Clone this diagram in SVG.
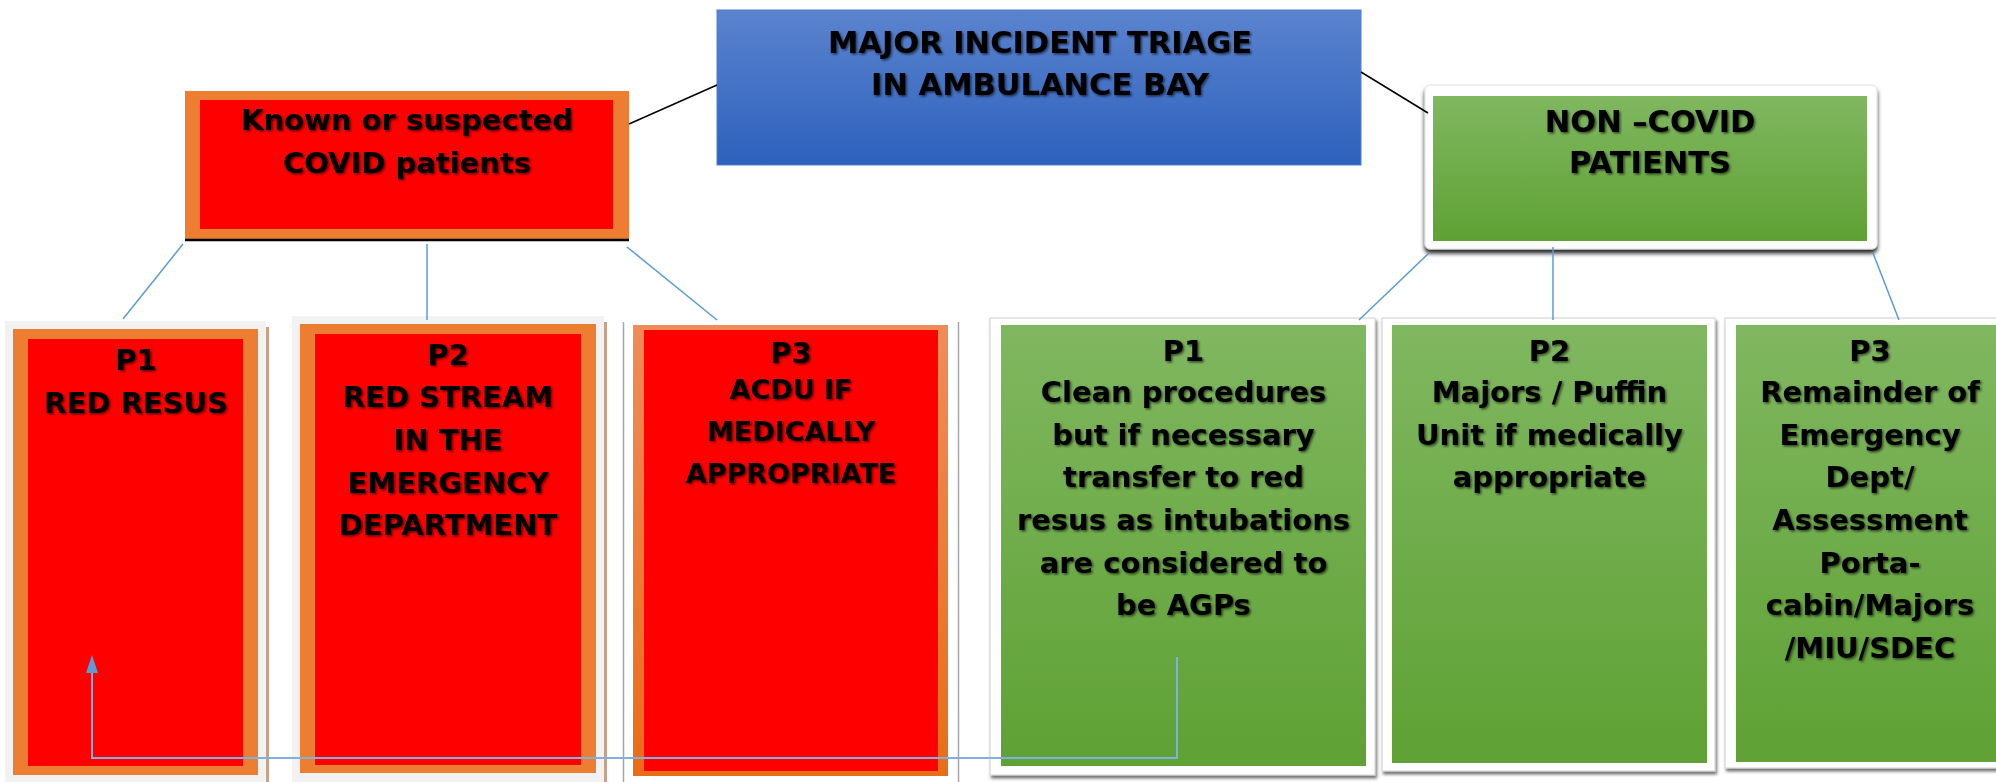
<svg xmlns="http://www.w3.org/2000/svg" width="1996" height="782" viewBox="0 0 1996 782">
<defs>
  <linearGradient id="blueGrad" x1="0" y1="0" x2="0" y2="1">
    <stop offset="0" stop-color="#5B83CF"/>
    <stop offset="1" stop-color="#2D61BC"/>
  </linearGradient>
  <linearGradient id="greenGrad" x1="0" y1="0" x2="0" y2="1">
    <stop offset="0" stop-color="#80B760"/>
    <stop offset="1" stop-color="#5FA134"/>
  </linearGradient>
  <linearGradient id="orangeGrad" x1="0" y1="0" x2="0" y2="1">
    <stop offset="0" stop-color="#F08C58"/>
    <stop offset="1" stop-color="#E86D16"/>
  </linearGradient>
  <filter id="txtShadow" x="-10%" y="-30%" width="120%" height="160%">
    <feDropShadow dx="1.5" dy="1.5" stdDeviation="1.2" flood-color="#000000" flood-opacity="0.6"/>
  </filter>
  <filter id="frameShadow" x="-5%" y="-5%" width="110%" height="110%">
    <feDropShadow dx="1.5" dy="3" stdDeviation="1.5" flood-color="#000000" flood-opacity="0.55"/>
  </filter>
  <filter id="boxShadow" x="-5%" y="-10%" width="110%" height="125%">
    <feDropShadow dx="0" dy="4" stdDeviation="2" flood-color="#000000" flood-opacity="0.85"/>
  </filter>
</defs>
<style>
  .t { font-family: "DejaVu Sans", Verdana, sans-serif; font-weight: bold; font-size: 29px; fill: #000000; text-anchor: middle; filter: url(#txtShadow); }
  .big { font-size: 30.5px; }
  .sm { font-size: 27px; }
  .red { fill: #FF0000; }
  .orange { fill: #ED7D31; }
  .grayframe { fill: #F2F2F2; }
  .tan { fill: #C9A088; }
  .green { fill: url(#greenGrad); }
  .whiteframe { fill: #FFFFFF; stroke: #D0D0D0; stroke-width: 1; filter: url(#frameShadow); }
  .blueline { stroke: #5B9BD5; stroke-width: 1.5; fill: none; }
  .blackline { stroke: #000000; stroke-width: 1.5; fill: none; }
</style>

<g id="nodes">
  <g id="title">
    <rect x="717" y="10" width="644" height="155" fill="url(#blueGrad)" stroke="#4F7FD0" stroke-width="1"/>
    <text class="t big" x="1040" y="53">MAJOR INCIDENT TRIAGE</text>
    <text class="t big" x="1040" y="95">IN AMBULANCE BAY</text>
  </g>

  <g id="covid">
    <rect x="185" y="91" width="444" height="148" class="orange"/>
    <rect x="200" y="100" width="413" height="129" class="red"/>
    <line x1="185" y1="240" x2="629" y2="240" stroke="#000000" stroke-width="2.5"/>
    <text class="t" x="407" y="130">Known or suspected</text>
    <text class="t" x="407" y="173">COVID patients</text>
  </g>

  <g id="noncovid">
    <rect x="1425" y="85" width="452" height="164" rx="5" fill="#FFFFFF" stroke="#E0E0E0" stroke-width="1" filter="url(#boxShadow)"/>
    <rect x="1433" y="96" width="434" height="145" class="green"/>
    <text class="t big" x="1650" y="132">NON –COVID</text>
    <text class="t big" x="1650" y="173">PATIENTS</text>
  </g>

  <g id="covid-p1">
    <rect x="266" y="327" width="3" height="455" class="tan"/>
    <rect x="5" y="321" width="261" height="461" class="grayframe"/>
    <rect x="13" y="329" width="245" height="446" class="orange"/>
    <rect x="28" y="339" width="215" height="427" class="red"/>
    <text class="t" x="136" y="370">P1</text>
    <text class="t" x="136" y="413">RED RESUS</text>
  </g>

  <g id="covid-p2">
    <rect x="604" y="322" width="3" height="460" class="tan"/>
    <rect x="292" y="316" width="312" height="466" class="grayframe"/>
    <rect x="300" y="324" width="296" height="449" class="orange"/>
    <rect x="315" y="334" width="266" height="431" class="red"/>
    <text class="t" x="448" y="365">P2</text>
    <text class="t" x="448" y="407">RED STREAM</text>
    <text class="t" x="448" y="450">IN THE</text>
    <text class="t" x="448" y="493">EMERGENCY</text>
    <text class="t" x="448" y="535">DEPARTMENT</text>
  </g>

  <g id="covid-p3">
    <rect x="623" y="320" width="336" height="470" fill="#FFFFFF"/>
    <line x1="623.5" y1="322" x2="623.5" y2="782" stroke="#A6A6A6" stroke-width="1.5"/>
    <line x1="958.5" y1="322" x2="958.5" y2="782" stroke="#A6A6A6" stroke-width="1.5"/>
    <rect x="633" y="325" width="315" height="451" fill="url(#orangeGrad)"/>
    <rect x="644" y="330" width="294" height="441" class="red"/>
    <text class="t" x="791" y="363" font-size="30">P3</text>
    <text class="t sm" x="791" y="399">ACDU IF</text>
    <text class="t sm" x="791" y="441">MEDICALLY</text>
    <text class="t sm" x="791" y="483">APPROPRIATE</text>
  </g>

  <g id="noncovid-p1">
    <rect x="990" y="318" width="385" height="457" class="whiteframe"/>
    <rect x="1001" y="325" width="365" height="441" class="green"/>
    <text class="t" x="1183.5" y="361">P1</text>
    <text class="t" x="1183.5" y="402">Clean procedures</text>
    <text class="t" x="1183.5" y="445">but if necessary</text>
    <text class="t" x="1183.5" y="487">transfer to red</text>
    <text class="t" x="1183.5" y="530">resus as intubations</text>
    <text class="t" x="1183.5" y="573">are considered to</text>
    <text class="t" x="1183.5" y="615">be AGPs</text>
  </g>

  <g id="noncovid-p2">
    <rect x="1382" y="318" width="333" height="453" class="whiteframe"/>
    <rect x="1392" y="325" width="315" height="438" class="green"/>
    <text class="t" x="1549.5" y="361">P2</text>
    <text class="t" x="1549.5" y="402">Majors / Puffin</text>
    <text class="t" x="1549.5" y="445">Unit if medically</text>
    <text class="t" x="1549.5" y="487">appropriate</text>
  </g>

  <g id="noncovid-p3">
    <rect x="1725" y="318" width="300" height="450" class="whiteframe"/>
    <rect x="1736" y="325" width="280" height="437" class="green"/>
    <text class="t" x="1870" y="361">P3</text>
    <text class="t" x="1870" y="402">Remainder of</text>
    <text class="t" x="1870" y="445">Emergency</text>
    <text class="t" x="1870" y="487">Dept/</text>
    <text class="t" x="1870" y="530">Assessment</text>
    <text class="t" x="1870" y="573">Porta-</text>
    <text class="t" x="1870" y="615">cabin/Majors</text>
    <text class="t" x="1870" y="658">/MIU/SDEC</text>
  </g>
</g>

<g id="connectors">
  <line class="blackline" x1="629" y1="124" x2="717" y2="85"/>
  <line class="blackline" x1="1361" y1="72" x2="1428" y2="113"/>
  <line class="blueline" x1="183" y1="244" x2="123" y2="319"/>
  <line class="blueline" x1="427" y1="244" x2="427" y2="320"/>
  <line class="blueline" x1="627" y1="247" x2="717" y2="320"/>
  <line class="blueline" x1="1429" y1="253" x2="1359" y2="320"/>
  <line class="blueline" x1="1553" y1="247" x2="1553" y2="320"/>
  <line class="blueline" x1="1873" y1="253" x2="1899" y2="320"/>
  <polyline points="1177,657 1177,758 92,758 92,671" fill="none" stroke="#7FB0E0" stroke-width="2"/>
  <polygon points="92,655 86,673 98,673" fill="#5B9BD5"/>
</g>
</svg>
